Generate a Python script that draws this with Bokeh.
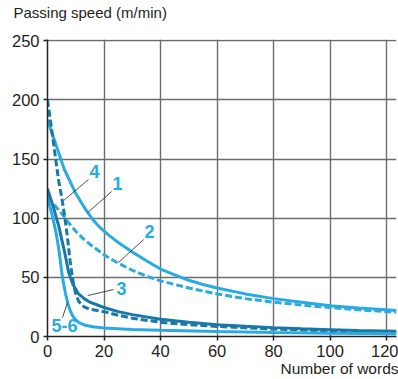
from bokeh.plotting import figure
from bokeh.models import Range1d, FixedTicker, Label, ColumnDataSource, Title
from bokeh.embed import file_html
from bokeh.resources import INLINE

# ---- data ----
x1 = [0, 3, 6, 8, 10, 12, 14, 16, 18, 20, 22, 25, 30, 35, 40, 45, 50, 55, 60, 70, 80, 90, 100, 110, 123.5]
y1 = [183, 162, 141, 131, 121, 113, 105.5, 99, 93.5, 89, 85, 79.5, 71.5, 64, 57, 52, 47.5, 44, 41, 36, 32, 29, 26, 24, 22]

x2 = [0, 2.5, 5, 7.5, 10, 12.5, 15, 20, 25, 30, 35, 40, 50, 60, 70, 80, 90, 100, 110, 123.5]
y2 = [118, 111, 104, 96, 89, 83, 78, 69, 62, 56, 51, 47, 41, 36, 32, 29, 26.5, 24.5, 22.5, 20.5]

x3 = [0, 2, 4, 6, 7.5, 9, 11, 13, 15, 20, 25, 30, 40, 50, 60, 70, 80, 90, 100, 110, 123.5]
y3 = [125, 110, 93, 72, 54, 44, 36, 32, 29, 24.5, 21, 18.5, 14.5, 12, 10, 8.7, 7.5, 6.5, 5.8, 5.1, 4.5]

x4 = [0, 1, 2, 3, 4, 5, 6, 7, 8, 8.7, 9.3, 10, 11, 12, 13, 15, 20, 25, 30, 40, 50, 60, 70, 80, 90, 100, 110, 123.5]
y4 = [200, 183, 166, 148, 131, 118, 103, 85, 64, 52, 43, 36, 30, 27, 25, 23, 21, 18, 15.5, 12, 10, 8.5, 7.3, 6.3, 5.5, 4.8, 4.2, 3.6]

x56 = [0, 1, 2, 3, 4, 5, 5.5, 6.4, 7.2, 8, 9, 10, 11, 13, 16, 20, 30, 40, 60, 80, 100, 123.5]
y56 = [117, 109, 99, 88, 74, 55, 47, 36, 28, 22, 17, 14, 12, 9.7, 8.2, 7.2, 5.9, 5.2, 4.2, 3.4, 2.8, 2.3]

x_ticks = [0, 20, 40, 60, 80, 100, 120]
y_ticks = [0, 50, 100, 150, 200, 250]

curve_labels = ["4", "1", "2", "3", "5-6"]
y_title = "Passing speed (m/min)"
x_title = "Number of words"

LIGHT = "#29abe2"
DARK = "#1878a8"
FONT = "Liberation Sans"
TXT = "#231f20"

p = figure(width=398, height=379, output_backend="svg", toolbar_location=None,
           x_range=Range1d(0, 123.5), y_range=Range1d(0, 251),
           min_border_left=47, min_border_right=2, min_border_top=39, min_border_bottom=43)
p.outline_line_color = None
p.background_fill_color = "white"
p.border_fill_color = "white"

# second (blank) line lifts the title away from the plot frame
p.title.text = y_title + "\n "
p.title.align = "left"
p.title.offset = -34
p.title.text_font = FONT
p.title.text_font_size = "15px"
p.title.text_font_style = "normal"
p.title.text_color = TXT
p.title.vertical_align = "top"
p.title.standoff = 0

for ax, ticks in ((p.xaxis, x_ticks), (p.yaxis, y_ticks)):
    ax.ticker = FixedTicker(ticks=ticks)
    ax.minor_tick_line_color = None
    ax.major_tick_in = 0
    ax.major_tick_out = 4
    ax.major_tick_line_color = "#222222"
    ax.major_tick_line_width = 1.5
    ax.axis_line_color = "#222222"
    ax.axis_line_width = 1.5
    ax.major_label_text_font = FONT
    ax.major_label_text_font_size = "16.5px"
    ax.major_label_text_color = TXT
    ax.major_label_standoff = 4

bottom_title = Title(text=x_title, align="right", text_font=FONT, text_font_size="15.5px",
                     text_font_style="normal", text_color=TXT, standoff=-3, offset=-2)
p.add_layout(bottom_title, "below")

p.grid.grid_line_color = "#6d6d6d"
p.grid.grid_line_width = 1.4
p.xgrid.ticker = FixedTicker(ticks=x_ticks)
p.ygrid.ticker = FixedTicker(ticks=y_ticks)

# curves
p.line(x1, y1, line_color=LIGHT, line_width=3)
p.line(x2, y2, line_color=LIGHT, line_width=3, line_dash="7 3")
p.line(x3, y3, line_color=DARK, line_width=3)
p.line(x4, y4, line_color=DARK, line_width=3, line_dash="7 3")
p.line(x56, y56, line_color=LIGHT, line_width=3)

# leader lines (annotation positions)
lead = ColumnDataSource(dict(
    x0=[14.5, 22.7, 34.0, 23.4, 5.3],
    y0=[132.6, 122.5, 81.9, 39.7, 16.0],
    x1=[5.7, 14.2, 25.1, 14.2, 7.1],
    y1=[114.9, 104.7, 62.5, 34.6, 28.7],
))
p.segment(x0="x0", y0="y0", x1="x1", y1="y1", source=lead, line_color=TXT, line_width=0.8)

label_x = [16.6, 24.8, 36.1, 26.2, 6.0]
label_y = [139.5, 129.3, 88.8, 40.6, 9.3]
for t, lx, ly in zip(curve_labels, label_x, label_y):
    p.add_layout(Label(x=lx, y=ly, text=t, text_align="center", text_baseline="middle",
                       text_font=FONT, text_font_size="18px", text_font_style="bold",
                       text_color=LIGHT))

open("out.html", "w").write(file_html(p, INLINE))
